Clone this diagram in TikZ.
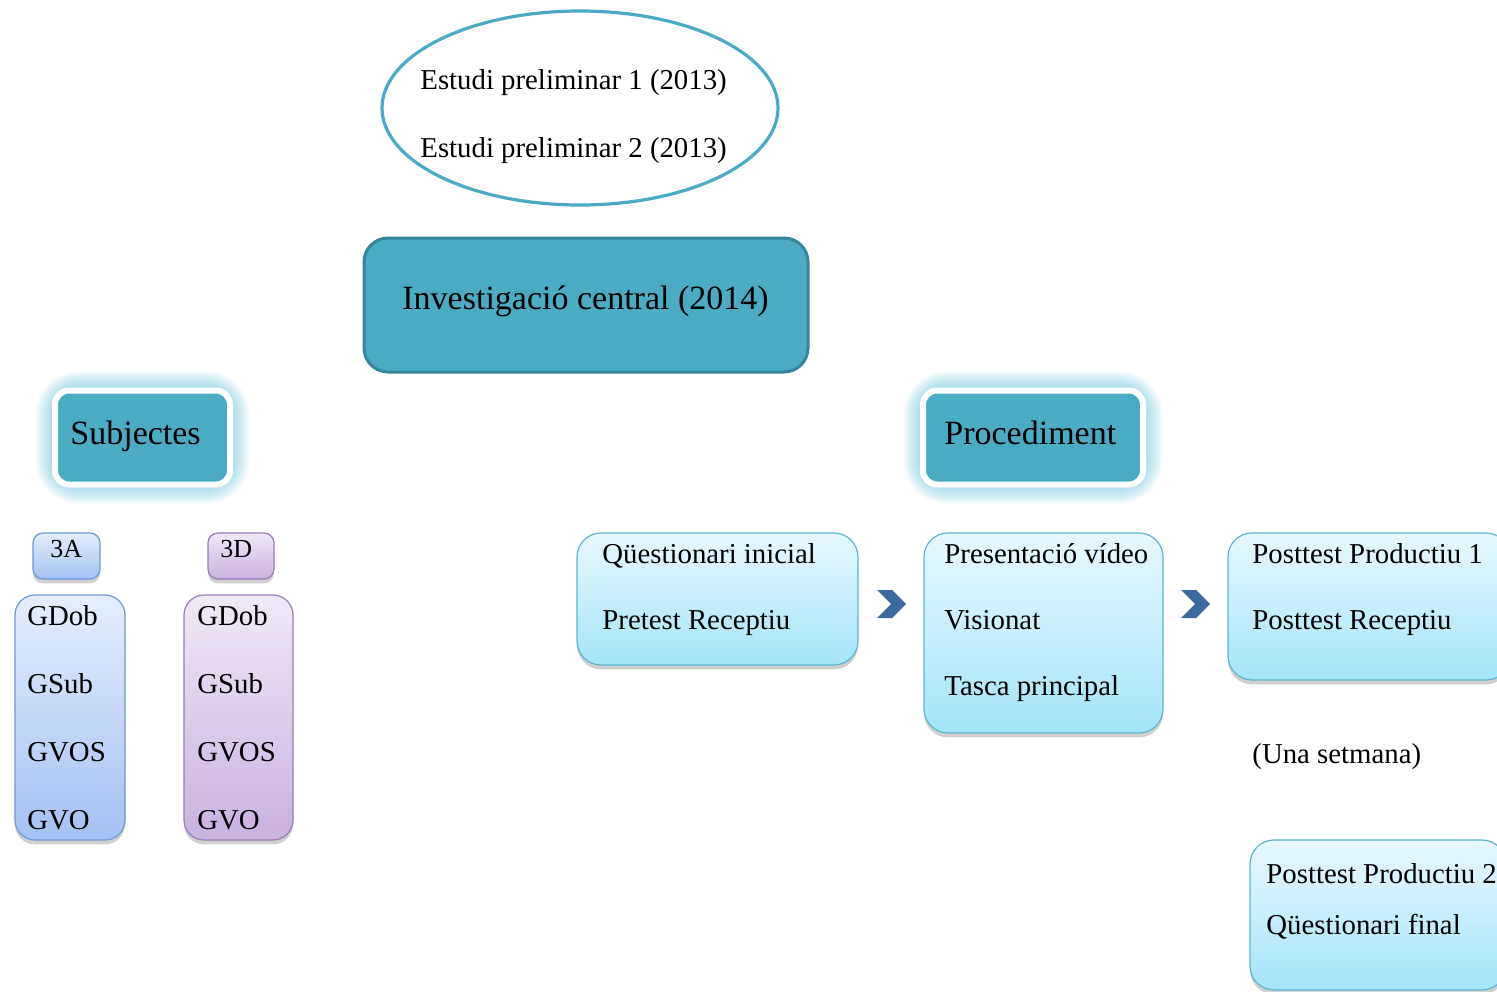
\documentclass[tikz,border=0pt]{standalone}
\usepackage{fontspec}
\setmainfont{Liberation Serif}
\usetikzlibrary{shapes.geometric,shadows}

\definecolor{accteal}{HTML}{4AABC5}
\definecolor{glowteal}{HTML}{5CC0DA}
\definecolor{tealedge}{HTML}{35859C}
\definecolor{skytop}{HTML}{E8F8FE}
\definecolor{skybot}{HTML}{A4E5F9}
\definecolor{skyedge}{HTML}{5DB5CE}
\definecolor{bluetop}{HTML}{E6EEFC}
\definecolor{bluebot}{HTML}{A3C1F4}
\definecolor{blueedge}{HTML}{6E98D4}
\definecolor{purtop}{HTML}{F0E9F6}
\definecolor{purbot}{HTML}{C9B2DF}
\definecolor{puredge}{HTML}{9A7DB6}
\definecolor{chevblue}{HTML}{3A6A9F}

\tikzset{
  txt/.style={anchor=base west, inner sep=0pt, font=\fontsize{14.4}{16}\selectfont},
  bigtxt/.style={anchor=base west, inner sep=0pt, font=\fontsize{17}{20}\selectfont},
  smalltxt/.style={anchor=base west, inner sep=0pt, font=\fontsize{13}{15}\selectfont},
  softshadow/.style={drop shadow={shadow xshift=0pt, shadow yshift=-2.2pt, opacity=0.3, fill=black!60}},
  stepcard/.style={draw=skyedge, line width=0.6pt, rounded corners=12pt,
    top color=skytop, bottom color=skybot, softshadow, inner sep=0pt},
  bluecard/.style={draw=blueedge, line width=0.6pt, top color=bluetop, bottom color=bluebot,
    softshadow, inner sep=0pt},
  purcard/.style={draw=puredge, line width=0.6pt, top color=purtop, bottom color=purbot,
    softshadow, inner sep=0pt},
  headbox/.style={draw=white, line width=3pt, fill=accteal, rounded corners=7pt,
    minimum height=47pt, inner sep=0pt},
}

\begin{document}
\begin{tikzpicture}[x=0.5pt, y=-0.5pt]
\useasboundingbox (0,0) rectangle (1497,991);
\fill[white] (0,0) rectangle (1497,991);

% preliminary studies
\node[ellipse, draw=accteal, line width=1.6pt, minimum width=198pt, minimum height=97pt] (pre) at (580,108) {};
\node[txt] (pre1) at (420,89) {Estudi preliminar 1 (2013)};
\node[txt] (pre2) at (420,157) {Estudi preliminar 2 (2013)};

% main study
\node[draw=tealedge, fill=accteal, line width=1.5pt, rounded corners=12pt,
      minimum width=222pt, minimum height=67pt] (inv) at (586,305) {};
\node[bigtxt] (invt) at (402,309) {Investigació central (2014)};

% glowing headings
\foreach \w in {1,...,9} {
  \draw[glowteal, opacity=0.08, line width=\w*2.1pt, rounded corners=12pt]
    (55,390.5) rectangle (230,484.5);
  \draw[glowteal, opacity=0.08, line width=\w*2.1pt, rounded corners=12pt]
    (923,390.5) rectangle (1143,484.5);
}
\node[headbox, minimum width=87.5pt] (subj) at (142.5,437.5) {};
\node[bigtxt] (subjt) at (70,444) {Subjectes};
\node[headbox, minimum width=110pt] (proc) at (1033,437.5) {};
\node[bigtxt] (proct) at (944,444) {Procediment};

% groups
\node[bluecard, rounded corners=5pt, minimum width=33.5pt, minimum height=23pt] (g3a) at (66.5,556) {};
\node[smalltxt] (g3at) at (50,557) {3A};
\node[purcard, rounded corners=5pt, minimum width=33pt, minimum height=23pt] (g3d) at (241,556) {};
\node[smalltxt] (g3dt) at (220,557) {3D};

\node[bluecard, rounded corners=10pt, minimum width=55pt, minimum height=122.5pt] (cola) at (70,717.5) {};
\node[purcard, rounded corners=10pt, minimum width=54.5pt, minimum height=122.5pt] (cold) at (238.5,717.5) {};
\node[txt] (a1) at (27,625) {GDob};
\node[txt] (a2) at (27,693) {GSub};
\node[txt] (a3) at (27,761) {GVOS};
\node[txt] (a4) at (27,829) {GVO};
\node[txt] (d1) at (197,625) {GDob};
\node[txt] (d2) at (197,693) {GSub};
\node[txt] (d3) at (197,761) {GVOS};
\node[txt] (d4) at (197,829) {GVO};

% procedure steps
\node[stepcard, minimum width=140.5pt, minimum height=66pt] (s1) at (717.5,599) {};
\node[txt] (s1a) at (602,563) {Qüestionari inicial};
\node[txt] (s1b) at (602,629) {Pretest Receptiu};

\node[stepcard, minimum width=119.5pt, minimum height=100pt] (s2) at (1043.5,633) {};
\node[txt] (s2a) at (944,563) {Presentació vídeo};
\node[txt] (s2b) at (944,629) {Visionat};
\node[txt] (s2c) at (944,695) {Tasca principal};

\node[stepcard, minimum width=141pt, minimum height=73.5pt] (s3) at (1369,606.5) {};
\node[txt] (s3a) at (1252,563) {Posttest Productiu 1};
\node[txt] (s3b) at (1252,629) {Posttest Receptiu};

\node[txt] (week) at (1252,763) {(Una setmana)};

\node[stepcard, minimum width=128pt, minimum height=75pt] (s4) at (1378,915) {};
\node[txt] (s4a) at (1266,883) {Posttest Productiu 2};
\node[txt] (s4b) at (1266,934) {Qüestionari final};

% chevrons between steps
\coordinate (c1) at (877,590);
\coordinate (c2) at (1181,590);
\foreach \c in {c1,c2} {
  \fill[chevblue] (\c) -- ++(15,0) -- ++(14,14) -- ++(-14,14) -- ++(-15,0) -- ++(14,-14) -- cycle;
}
\end{tikzpicture}
\end{document}
